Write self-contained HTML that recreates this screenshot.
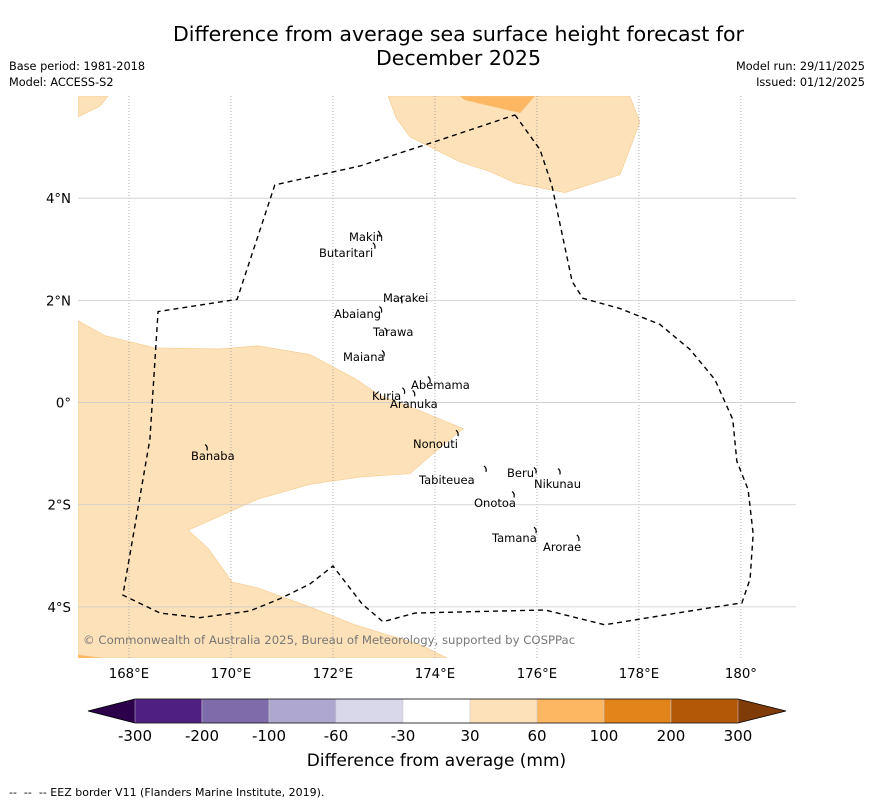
<!DOCTYPE html>
<html><head><meta charset="utf-8"><style>
body{margin:0;background:#fff;font-family:"DejaVu Sans","Liberation Sans",sans-serif;}
#wrap{position:relative;width:873px;height:804px;overflow:hidden;}
.t{position:absolute;white-space:nowrap;color:#000;}
</style></head><body>
<div id="wrap">
<div class="t" style="left:0;width:917px;top:22px;text-align:center;font-size:20.5px;line-height:24px;">Difference from average sea surface height forecast for<br>December 2025</div>
<div class="t" style="left:9px;top:59px;font-size:11.3px;line-height:16px;">Base period: 1981-2018<br>Model: ACCESS-S2</div>
<div class="t" style="right:8px;top:59px;font-size:11.3px;line-height:16px;text-align:right;">Model run: 29/11/2025<br>Issued: 01/12/2025</div>
<svg id="map" width="873" height="804" style="position:absolute;left:0;top:0;"></svg>
<div class="t" style="left:0;width:873px;top:751px;text-align:center;font-size:17px;">Difference from average (mm)</div>
<div class="t" style="left:9px;top:786px;font-size:11px;">--&nbsp; --&nbsp; -- EEZ border V11 (Flanders Marine Institute, 2019).</div>
</div>
<script>
const lonTicks=[168,170,172,174,176,178,180];
const lonLabels=["168°E","170°E","172°E","174°E","176°E","178°E","180°"];
const latTicks=[4,2,0,-2,-4];
const latLabels=["4°N","2°N","0°","2°S","4°S"];
const cbBounds=[-300,-200,-100,-60,-30,30,60,100,200,300];
const cbColors=["#4f1f82","#7e6ba9","#aea7d0","#d9d8eb","#ffffff","#fde1b8","#fdb662","#e3841a","#b35806"];
const cbLow="#2d004b", cbHigh="#7f3b08";
const eezLon=[175.57,176.06,176.29,176.69,176.90,177.63,178.41,179.0,179.49,179.84,179.92,180.14,180.24,180.18,180.02,179.0,177.33,176.16,173.61,172.98,172.57,172.0,171.55,170.96,170.37,169.39,168.61,167.88,168.41,168.57,170.12,170.86,172.53,174.10,175.57];
const eezLat=[5.63,4.95,4.26,2.37,2.04,1.84,1.53,1.04,0.45,-0.33,-1.15,-1.70,-2.57,-3.45,-3.92,-4.08,-4.35,-4.06,-4.12,-4.29,-3.94,-3.20,-3.55,-3.84,-4.08,-4.21,-4.12,-3.77,-0.72,1.78,2.02,4.26,4.63,5.14,5.63];
const islands=[["Makin",172.92,3.3],["Butaritari",172.82,3.07],["Marakei",173.35,2.0],["Abaiang",172.95,1.82],["Tarawa",173.05,1.4],["Maiana",173.0,0.96],["Abemama",173.9,0.45],["Kuria",173.4,0.23],["Aranuka",173.6,0.18],["Nonouti",174.45,-0.6],["Tabiteuea",175.0,-1.3],["Beru",175.98,-1.33],["Nikunau",176.45,-1.35],["Onotoa",175.55,-1.8],["Tamana",175.98,-2.5],["Arorae",176.82,-2.65],["Banaba",169.53,-0.88]];
const labelPos={"Makin":[349,241],"Butaritari":[319,257],"Marakei":[383,302],"Abaiang":[334,318],"Tarawa":[373,336],"Maiana":[343,361],"Abemama":[411,389],"Kuria":[372,400],"Aranuka":[390,408],"Nonouti":[413,448],"Tabiteuea":[419,484],"Beru":[507,477],"Nikunau":[534,488],"Onotoa":[474,507],"Tamana":[492,542],"Arorae":[543,551],"Banaba":[191,460]};
const polyA=[[167,1.6],[167.53,1.31],[168.51,1.07],[169.78,1.05],[170.53,1.11],[171.55,0.94],[172.43,0.47],[172.92,0.14],[173.71,-0.16],[174.55,-0.51],[174.1,-0.88],[173.51,-1.39],[172.53,-1.46],[171.55,-1.6],[170.53,-1.89],[169.16,-2.5],[169.55,-2.85],[170.02,-3.51],[170.53,-3.63],[171.55,-4.0],[172.43,-4.35],[173.71,-4.74],[174.24,-5],[167,-5]];
const polyB=[[167,6],[167.59,6],[167.43,5.8],[167,5.59]];
const polyC=[[173.08,6],[177.82,6],[178.02,5.49],[177.63,4.46],[176.55,4.11],[175.57,4.3],[175.08,4.52],[174.49,4.71],[173.51,5.2],[173.24,5.57]];
const polyD=[[174.49,6],[175.96,6],[175.67,5.67],[174.59,5.92]];
const polyE=[[167,-4.94],[167.5,-5],[167,-5]];
const NS="http://www.w3.org/2000/svg";
const svg=document.getElementById('map');
const X0=78,X1=796,Y0=96,Y1=658,LON0=167,LON1=181.08,LAT0=6,LAT1=-5;
const xs=lon=>X0+(lon-LON0)*(X1-X0)/(LON1-LON0);
const ys=lat=>Y0+(LAT0-lat)*(Y1-Y0)/(LAT0-LAT1);
function mk(tag,attrs,parent){const e=document.createElementNS(NS,tag);for(const k in attrs)e.setAttribute(k,attrs[k]);(parent||svg).appendChild(e);return e;}
const cp=mk('clipPath',{id:'clip'});mk('rect',{x:X0,y:Y0,width:X1-X0,height:Y1-Y0},cp);
const g=mk('g',{'clip-path':'url(#clip)'});
function poly(p,fill,name){const e=mk('polygon',{points:p.map(q=>xs(q[0])+','+ys(q[1])).join(' '),fill:fill,stroke:'#f5c98a','stroke-width':0.6},g);

}
poly(polyA,cbColors[5],'anomaly-region-west');
poly(polyB,cbColors[5],'anomaly-region-northwest');
poly(polyC,cbColors[5],'anomaly-region-north');
poly(polyD,cbColors[6],'anomaly-region-north-high');
poly(polyE,cbColors[6],'anomaly-region-southwest');
lonTicks.forEach((v,i)=>{const l=mk('line',{x1:xs(v),x2:xs(v),y1:Y0,y2:Y1,stroke:'#999','stroke-width':0.8,'stroke-dasharray':'1,2'},g);


const t=mk('text',{x:xs(v),y:678,'text-anchor':'middle','font-size':13.3});t.textContent=lonLabels[i];

});
latTicks.forEach((v,i)=>{const l=mk('line',{x1:X0,x2:X1,y1:ys(v),y2:ys(v),stroke:'#ccc','stroke-width':0.8},g);


const t=mk('text',{x:71,y:ys(v)+5,'text-anchor':'end','font-size':13.3});t.textContent=latLabels[i];

});
const eez=mk('polyline',{points:eezLon.map((v,i)=>xs(v)+','+ys(eezLat[i])).join(' '),fill:'none',stroke:'#000','stroke-width':1.4,'stroke-dasharray':'5,4'},g);


islands.forEach(d=>{const x=xs(d[1]),y=ys(d[2]);
const m=mk('path',{d:`M${x-2},${y-3} q3,2 2,6`,stroke:'#000','stroke-width':1.2,fill:'none'},g);


const p=labelPos[d[0]];const t=mk('text',{x:p[0],y:p[1],'font-size':11.5},g);t.textContent=d[0];

});
const cr=mk('text',{x:83,y:644,'font-size':11.7,fill:'#777'},g);cr.textContent='© Commonwealth of Australia 2025, Bureau of Meteorology, supported by COSPPac';


const CB0=135,CB1=738,CBY=699,CBH=24;
const seg=(CB1-CB0)/(cbBounds.length-1);
const lt=mk('polygon',{points:`88,${CBY+CBH/2} ${CB0},${CBY} ${CB0},${CBY+CBH}`,fill:cbLow});


const rt=mk('polygon',{points:`786,${CBY+CBH/2} ${CB1},${CBY} ${CB1},${CBY+CBH}`,fill:cbHigh});


cbColors.forEach((c,i)=>{const r=mk('rect',{x:CB0+i*seg,y:CBY,width:seg,height:CBH,fill:c,stroke:'#ccc','stroke-width':0.5});

});
mk('polygon',{points:`88,${CBY+CBH/2} ${CB0},${CBY} ${CB1},${CBY} 786,${CBY+CBH/2} ${CB1},${CBY+CBH} ${CB0},${CBY+CBH}`,fill:'none',stroke:'#000','stroke-width':0.8});
cbBounds.forEach((v,i)=>{const t=mk('text',{x:CB0+i*seg,y:741,'text-anchor':'middle','font-size':15});t.textContent=v;

});
</script>
</body></html>
